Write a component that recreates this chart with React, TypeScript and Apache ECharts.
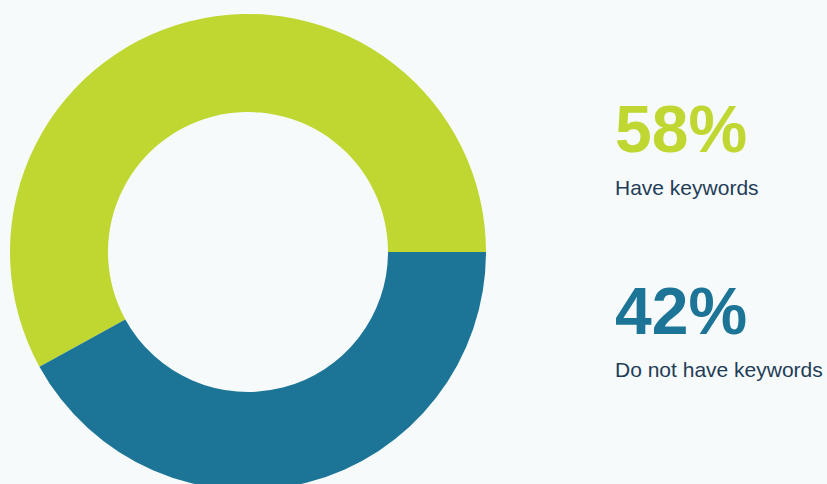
import React, { useEffect, useRef } from "react";
import * as echarts from "echarts";

const categories = ["Have keywords", "Do not have keywords"];
const values = [58, 42];
const colors = ["#bfd730", "#1c7596"];

export default function App() {
  const ref = useRef<HTMLDivElement>(null);
  useEffect(() => {
    if (!ref.current) return;
    const chart = echarts.init(ref.current, null, { renderer: "svg" });
    const labelY = [
      { pct: 129, txt: 187.5 },
      { pct: 311, txt: 369.5 },
    ];
    const graphics: any[] = [];
    categories.forEach((c, i) => {
      graphics.push({
        type: "text",
        x: 615,
        y: labelY[i].pct,
        style: {
          text: values[i] + "%",
          fill: colors[i],
          font: "bold 66px 'Liberation Sans', Arial, sans-serif",
          verticalAlign: "middle",
          align: "left",
        },
      });
      graphics.push({
        type: "text",
        x: 615,
        y: labelY[i].txt,
        style: {
          text: c,
          fill: "#1f3d57",
          font: "21px 'Liberation Sans', Arial, sans-serif",
          verticalAlign: "middle",
          align: "left",
        },
      });
    });
    chart.setOption({
      animation: false,
      backgroundColor: "#f6fafb",
      graphic: graphics,
      series: [
        {
          type: "pie",
          center: [248, 252],
          radius: [140, 238],
          startAngle: 0,
          clockwise: false,
          label: { show: false },
          labelLine: { show: false },
          silent: true,
          itemStyle: { borderWidth: 0 },
          data: categories.map((c, i) => ({
            name: c,
            value: values[i],
            itemStyle: { color: colors[i] },
          })),
        },
      ],
    });
    return () => chart.dispose();
  }, []);
  return <div ref={ref} style={{ width: 827, height: 484, position: "absolute", left: 0, top: 0 }} />;
}
